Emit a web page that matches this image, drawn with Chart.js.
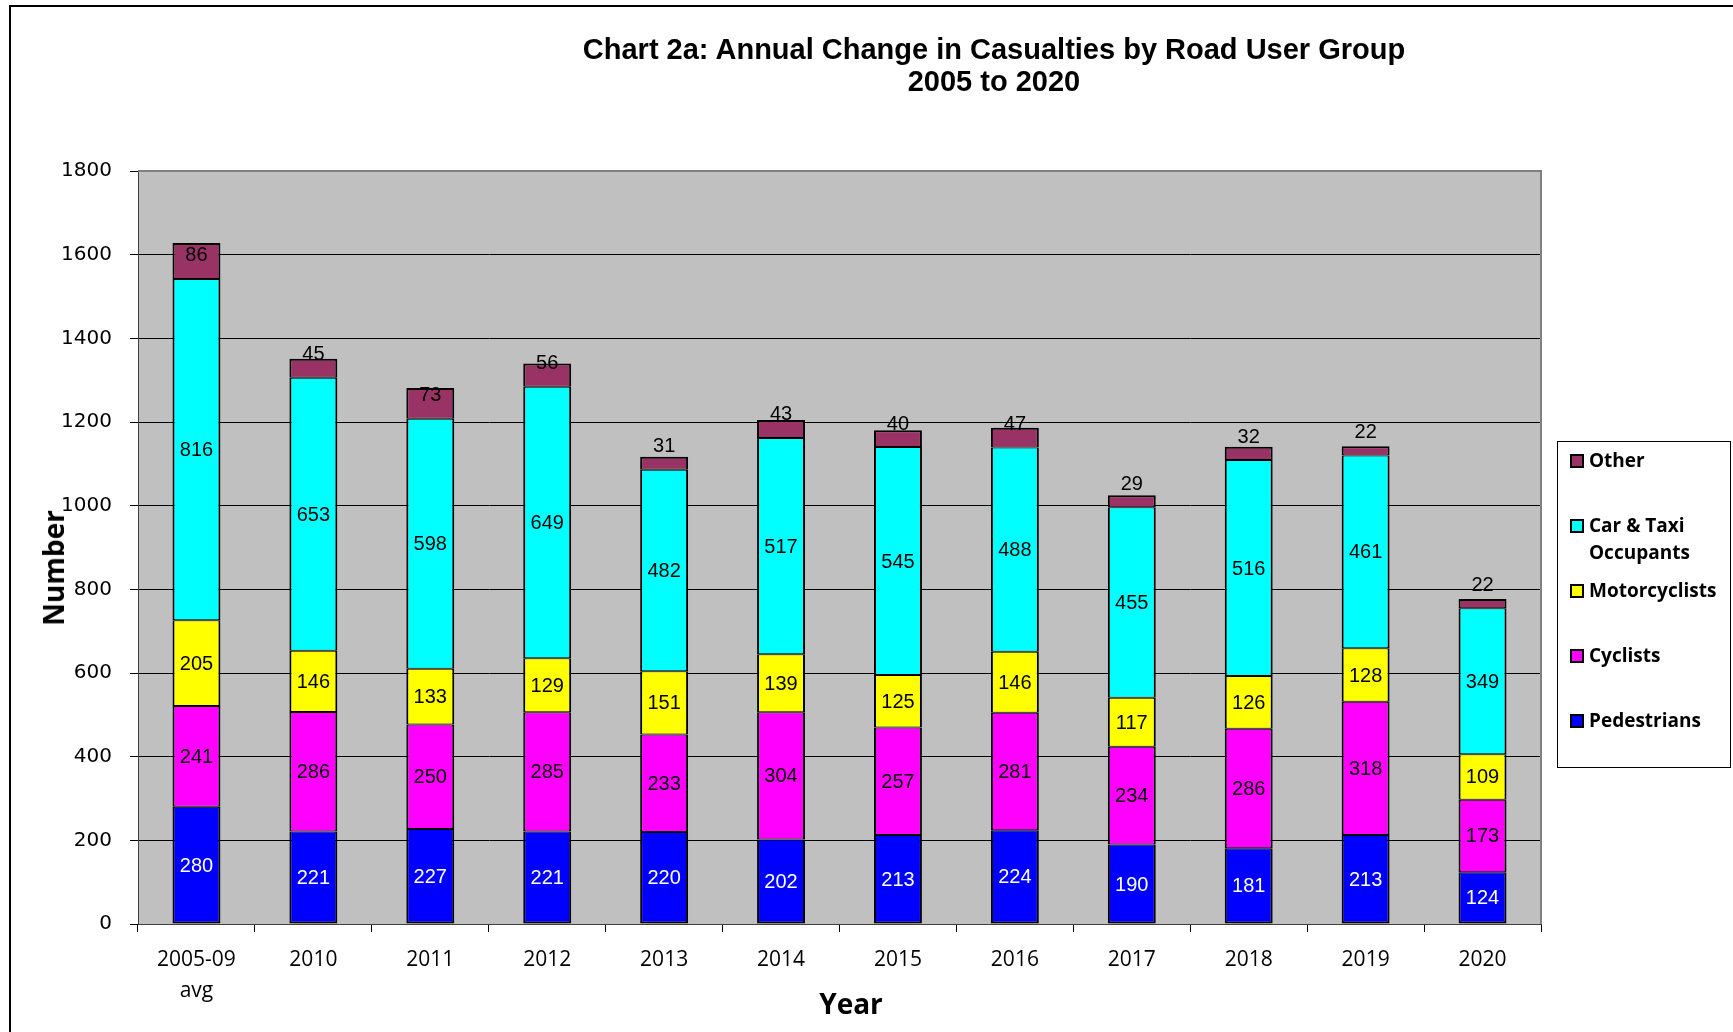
<!DOCTYPE html>
<html>
<head>
<meta charset="utf-8">
<title>Chart 2a: Annual Change in Casualties by Road User Group</title>
<script src="https://cdn.jsdelivr.net/npm/chart.js@4.4.1/dist/chart.umd.min.js"></script>
<style>
  body { margin: 0; background: #fff; }
  #wrap { position: relative; width: 1733px; height: 1032px; overflow: hidden; }
  #frame { position: absolute; left: 9px; top: 5px; right: -10px; bottom: -10px;
    border-top: 2px solid #000; border-left: 2px solid #000; }
  #chart { position: absolute; left: 0; top: 0; }
  #title { position: absolute; left: 444px; top: 33px; width: 1100px; text-align: center;
    font: bold 29px/32px "Liberation Sans", Arial, sans-serif; color: #000; }
  .axis-title { position: absolute; font: bold 28px/1 "Open Sans", sans-serif; color: #000; white-space: nowrap; }
  #ytitle { left: 53px; top: 568px; transform: translate(-50%, -50%) rotate(-90deg); }
  #xtitle { left: 851px; top: 1003px; transform: translate(-50%, -50%); }
  #legend { position: absolute; left: 1557px; top: 441px; width: 172px; height: 320px;
    border: 1px solid #000; background: #fff; padding-top: 5px; }
  .item { position: relative; height: 65px; padding-left: 31px; padding-right: 4px;
    font: bold 19px/27px "Open Sans", sans-serif; color: #000; }
  .swatch { position: absolute; left: 12px; top: 7px; width: 10px; height: 10px; border: 2px solid #000; }
</style>
</head>
<body>
<div id="wrap">
  <div id="frame"></div>
  <canvas id="chart" width="1733" height="1032"></canvas>
  <div id="title">Chart 2a: Annual Change in Casualties by Road User Group<br>2005 to 2020</div>
  <div id="ytitle" class="axis-title">Number</div>
  <div id="xtitle" class="axis-title">Year</div>
  <div id="legend"></div>
</div>
<script>
const years = [['2005-09', 'avg'], '2010', '2011', '2012', '2013', '2014', '2015', '2016', '2017', '2018', '2019', '2020'];
const pedestrians = [280, 221, 227, 221, 220, 202, 213, 224, 190, 181, 213, 124];
const cyclists = [241, 286, 250, 285, 233, 304, 257, 281, 234, 286, 318, 173];
const motorcyclists = [205, 146, 133, 129, 151, 139, 125, 146, 117, 126, 128, 109];
const carTaxi = [816, 653, 598, 649, 482, 517, 545, 488, 455, 516, 461, 349];
const other = [86, 45, 73, 56, 31, 43, 40, 47, 29, 32, 22, 22];
const yTicks = [0, 200, 400, 600, 800, 1000, 1200, 1400, 1600, 1800];

function series(label, data, color, labelColor, labelAtBase) {
  return {
    label: label,
    data: data,
    backgroundColor: color,
    borderColor: '#000',
    borderWidth: { left: 2, right: 2, top: 1, bottom: 1 },
    borderSkipped: false,
    labelColor: labelColor,
    labelAtBase: labelAtBase
  };
}

const datasets = [
  series('Pedestrians', pedestrians, '#0000FF', '#fff', false),
  series('Cyclists', cyclists, '#FF00FF', '#000', false),
  series('Motorcyclists', motorcyclists, '#FFFF00', '#000', false),
  series('Car & Taxi Occupants', carTaxi, '#00FFFF', '#000', false),
  series('Other', other, '#993366', '#000', true)
];
datasets[0].borderWidth = { left: 2, right: 2, top: 1, bottom: 2 };
datasets[4].borderWidth = { left: 2, right: 2, top: 2, bottom: 1 };

// grey plot background, grey frame on the top and right edges
const plotArea = {
  id: 'plotArea',
  beforeDraw(chart) {
    const { ctx, chartArea: a } = chart;
    ctx.save();
    ctx.fillStyle = '#C0C0C0';
    ctx.fillRect(a.left, a.top, a.right - a.left, a.bottom - a.top);
    ctx.restore();
  },
  afterDraw(chart) {
    const { ctx, chartArea: a } = chart;
    ctx.save();
    ctx.strokeStyle = '#808080';
    ctx.lineWidth = 2;
    ctx.beginPath();
    ctx.moveTo(a.left, a.top);
    ctx.lineTo(a.right, a.top);
    ctx.lineTo(a.right, a.bottom);
    ctx.stroke();
    ctx.restore();
  }
};

// value labels: centred in each segment, "Other" sits just above its base
const segmentLabels = {
  id: 'segmentLabels',
  afterDatasetsDraw(chart) {
    const ctx = chart.ctx;
    ctx.save();
    ctx.font = '20px "Liberation Sans", Arial, sans-serif';
    ctx.textAlign = 'center';
    ctx.textBaseline = 'middle';
    chart.data.datasets.forEach((ds, i) => {
      chart.getDatasetMeta(i).data.forEach((bar, j) => {
        const y = ds.labelAtBase ? bar.base - 24 : (bar.y + bar.base) / 2;
        ctx.fillStyle = ds.labelColor;
        ctx.fillText(String(ds.data[j]), bar.x, y + 1);
      });
    });
    ctx.restore();
  }
};

const chart = new Chart(document.getElementById('chart'), {
  type: 'bar',
  data: { labels: years, datasets: datasets },
  plugins: [plotArea, segmentLabels],
  options: {
    responsive: false,
    animation: false,
    layout: { padding: { top: 171, right: 192, left: 0, bottom: 0 } },
    datasets: { bar: { categoryPercentage: 1, barPercentage: 0.41 } },
    plugins: { legend: { display: false }, tooltip: { enabled: false }, title: { display: false } },
    scales: {
      x: {
        stacked: true,
        afterFit: s => { s.height = 108; },
        grid: { offset: true, drawOnChartArea: false, drawTicks: true, tickLength: 8, color: '#000' },
        border: { color: '#404040', width: 1 },
        ticks: { color: '#000', padding: 12, font: { family: '"Open Sans", sans-serif', size: 21, lineHeight: 1.5 } }
      },
      y: {
        stacked: true,
        min: yTicks[0],
        max: yTicks[yTicks.length - 1],
        afterFit: s => { s.width = 138; },
        afterBuildTicks: s => { s.ticks = yTicks.map(v => ({ value: v })); },
        grid: { color: '#000', lineWidth: 1, tickLength: 8 },
        border: { color: '#404040', width: 1 },
        ticks: {
          color: '#000',
          padding: 18,
          font: { family: '"DejaVu Sans", sans-serif', size: 20 },
          callback: v => String(v)
        }
      }
    }
  }
});

// legend box, top to bottom in stack order
const legend = document.getElementById('legend');
chart.data.datasets.slice().reverse().forEach(ds => {
  const item = document.createElement('div');
  item.className = 'item';
  item.innerHTML = `<span class="swatch" style="background:${ds.backgroundColor}"></span>${ds.label}`;
  legend.appendChild(item);
});
</script>
</body>
</html>
